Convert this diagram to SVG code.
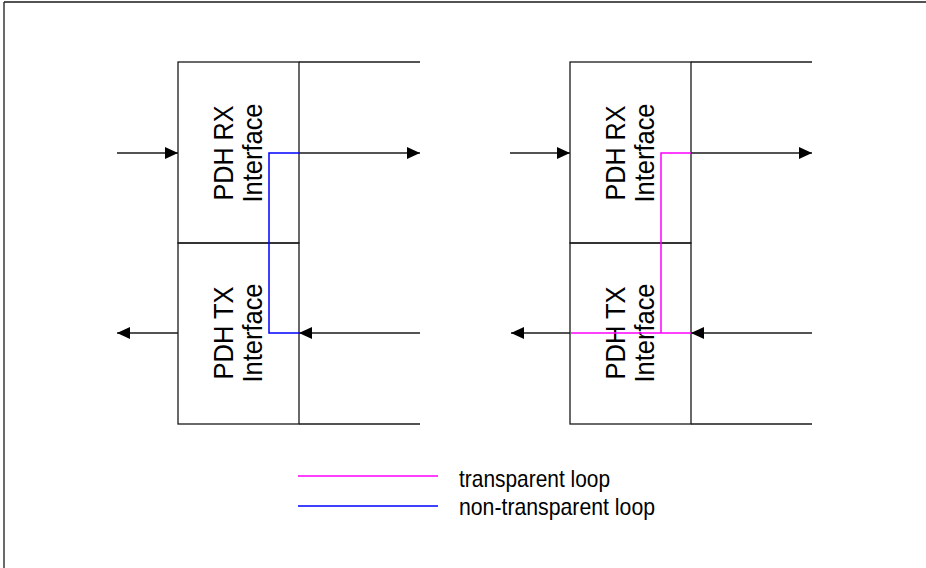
<svg xmlns="http://www.w3.org/2000/svg" width="926" height="568" viewBox="0 0 926 568">
<style>
.ln{stroke:#1a1a1a;stroke-width:1.3;fill:none}
.box{stroke:#1a1a1a;stroke-width:1.3;fill:none}
.bt{font-family:"Liberation Sans",Arial,sans-serif;font-size:28px;fill:#000;text-anchor:middle}
.lg{font-family:"Liberation Sans",Arial,sans-serif;font-size:24px;fill:#000}
.mag{stroke:#ff00ff;stroke-width:1.5;fill:none}
.blu{stroke:#0000ff;stroke-width:1.5;fill:none}
</style>
<defs>
<marker id="ah" markerUnits="userSpaceOnUse" markerWidth="13" markerHeight="12" refX="13" refY="6" orient="auto">
<path d="M0,0 L13,6 L0,12 z" fill="#000"/>
</marker>
</defs>
<rect width="926" height="568" fill="#fff"/>
<g id="frame">
<line x1="4" y1="2" x2="926" y2="2" class="ln"/>
<line x1="4" y1="2" x2="4" y2="568" class="ln"/>
</g>
<g id="left-rx">
<rect x="178" y="62" width="121" height="181" class="box"/>
<g transform="translate(178,153) rotate(-90)">
<text class="bt" x="0" y="55" textLength="95" lengthAdjust="spacingAndGlyphs">PDH RX</text>
<text class="bt" x="0" y="84" textLength="99" lengthAdjust="spacingAndGlyphs">Interface</text>
</g>
</g>
<g id="left-tx">
<rect x="178" y="243" width="121" height="181" class="box"/>
<g transform="translate(178,333) rotate(-90)">
<text class="bt" x="0" y="55" textLength="93" lengthAdjust="spacingAndGlyphs">PDH TX</text>
<text class="bt" x="0" y="84" textLength="99" lengthAdjust="spacingAndGlyphs">Interface</text>
</g>
</g>
<g id="right-rx">
<rect x="570" y="62" width="121" height="181" class="box"/>
<g transform="translate(570,153) rotate(-90)">
<text class="bt" x="0" y="55" textLength="95" lengthAdjust="spacingAndGlyphs">PDH RX</text>
<text class="bt" x="0" y="84" textLength="99" lengthAdjust="spacingAndGlyphs">Interface</text>
</g>
</g>
<g id="right-tx">
<rect x="570" y="243" width="121" height="181" class="box"/>
<g transform="translate(570,333) rotate(-90)">
<text class="bt" x="0" y="55" textLength="93" lengthAdjust="spacingAndGlyphs">PDH TX</text>
<text class="bt" x="0" y="84" textLength="99" lengthAdjust="spacingAndGlyphs">Interface</text>
</g>
</g>
<g id="connectors">
<line x1="299" y1="62" x2="420" y2="62" class="ln"/>
<line x1="299" y1="424" x2="420" y2="424" class="ln"/>
<line x1="691" y1="62" x2="812" y2="62" class="ln"/>
<line x1="691" y1="424" x2="812" y2="424" class="ln"/>
<line x1="117" y1="153" x2="178" y2="153" class="ln" marker-end="url(#ah)"/>
<line x1="299" y1="153" x2="420" y2="153" class="ln" marker-end="url(#ah)"/>
<line x1="178" y1="333" x2="117" y2="333" class="ln" marker-end="url(#ah)"/>
<line x1="420" y1="333" x2="299" y2="333" class="ln" marker-end="url(#ah)"/>
<line x1="510" y1="153" x2="570" y2="153" class="ln" marker-end="url(#ah)"/>
<line x1="691" y1="153" x2="812" y2="153" class="ln" marker-end="url(#ah)"/>
<line x1="570" y1="333" x2="511" y2="333" class="ln" marker-end="url(#ah)"/>
<line x1="812" y1="333" x2="691" y2="333" class="ln" marker-end="url(#ah)"/>
<polyline points="299,153 269,153 269,333 299,333" class="blu"/>
<polyline points="691,153 661,153 661,333" class="mag"/>
<line x1="571" y1="333" x2="691" y2="333" class="mag"/>
</g>
<g id="legend">
<line x1="298" y1="476" x2="438" y2="476" class="mag"/>
<line x1="298" y1="506" x2="438" y2="506" class="blu"/>
<text class="lg" x="459" y="487" textLength="151" lengthAdjust="spacingAndGlyphs">transparent loop</text>
<text class="lg" x="459" y="515" textLength="196" lengthAdjust="spacingAndGlyphs">non-transparent loop</text>
</g>
</svg>
